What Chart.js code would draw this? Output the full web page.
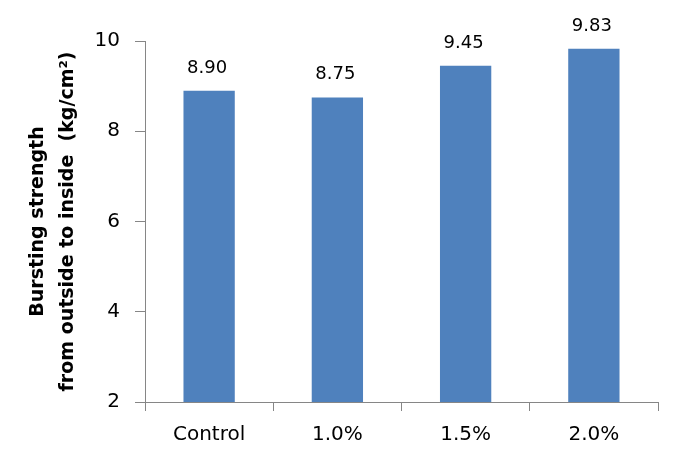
<!DOCTYPE html>
<html>
<head>
<meta charset="utf-8">
<script src="https://cdn.jsdelivr.net/npm/chart.js@4/dist/chart.umd.min.js"></script>
<style>
  html, body { margin: 0; padding: 0; background: #fff; }
  #wrap { width: 673px; height: 459px; }
</style>
</head>
<body>
<div id="wrap"><canvas id="burst-chart"></canvas></div>
<script>
const categories = ["Control", "1.0%", "1.5%", "2.0%"];
const strengthValues = [8.90, 8.75, 9.45, 9.83];
const valueLabels = ["8.90", "8.75", "9.45", "9.83"];
const yTicks = [2, 4, 6, 8, 10];
const yTitle = ["Bursting strength", "from outside to inside  (kg/cm\u00B2)"];

const axisGray = "#868686";

// draws the number above each bar
const barValueLabels = {
    id: "barValueLabels",
    afterDatasetsDraw: function (chart) {
        let ctx = chart.ctx;
        let meta = chart.getDatasetMeta(0);
        ctx.save();
        ctx.font = "18px 'DejaVu Sans'";
        ctx.fillStyle = "#000";
        ctx.textAlign = "center";
        ctx.textBaseline = "alphabetic";
        meta.data.forEach(function (bar, i) {
            ctx.fillText(valueLabels[i], bar.x - 2, bar.y - 18);
        });
        ctx.restore();
    }
};

new Chart(document.getElementById("burst-chart").getContext("2d"), {
    type: "bar",
    data: {
        labels: categories,
        datasets: [{
            data: strengthValues,
            backgroundColor: "#4F81BD",
            borderWidth: 0,
            barPercentage: 0.4,
            categoryPercentage: 1.0
        }]
    },
    options: {
        responsive: true,
        maintainAspectRatio: false,
        animation: false,
        layout: { padding: { top: 41, right: 15, bottom: 0, left: 0 } },
        plugins: {
            legend: { display: false },
            tooltip: { enabled: false }
        },
        scales: {
            x: {
                grid: {
                    drawOnChartArea: false,
                    drawTicks: true,
                    tickLength: 9,
                    color: axisGray,
                    offset: true
                },
                border: { color: axisGray, width: 1 },
                ticks: {
                    color: "#000",
                    padding: 12,
                    font: { family: "DejaVu Sans", size: 20 }
                }
            },
            y: {
                min: 2,
                max: 10,
                afterBuildTicks: function (scale) {
                    scale.ticks = yTicks.map(function (v) { return { value: v }; });
                },
                afterFit: function (scale) { scale.width = 145; },
                grid: {
                    drawOnChartArea: false,
                    drawTicks: true,
                    tickLength: 10,
                    color: axisGray
                },
                border: { color: axisGray, width: 1 },
                ticks: {
                    color: "#000",
                    padding: 15,
                    font: { family: "DejaVu Sans", size: 20 }
                },
                title: {
                    display: true,
                    text: yTitle,
                    color: "#000",
                    padding: { top: 23, bottom: 0 },
                    font: { family: "DejaVu Sans", size: 19, weight: "bold", lineHeight: 1.58 }
                }
            }
        }
    },
    plugins: [barValueLabels]
});
</script>
</body>
</html>
